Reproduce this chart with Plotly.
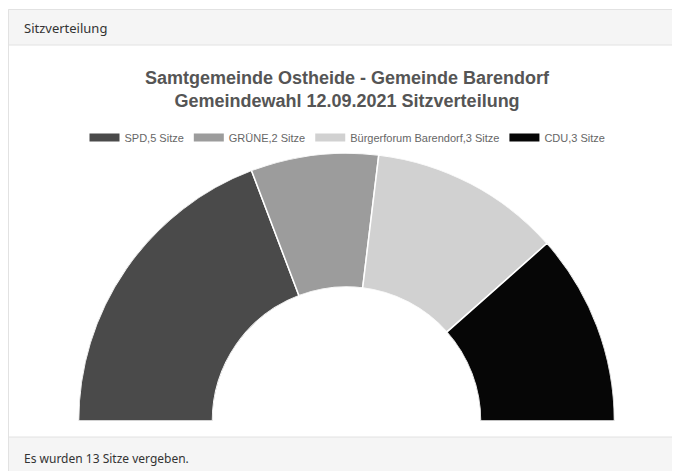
import plotly.graph_objects as go

# ---- data ----
parties = ["SPD", "GRÜNE", "Bürgerforum Barendorf", "CDU"]
seats = [5, 2, 3, 3]
colors = ["#4a4a4a", "#9c9c9c", "#d1d1d1", "#060606"]
title_lines = ["Samtgemeinde Ostheide - Gemeinde Barendorf",
               "Gemeindewahl 12.09.2021 Sitzverteilung"]
header_text = "Sitzverteilung"
footer_text = "Es wurden 13 Sitze vergeben."

# page body has an 8px margin; figure sized to fill the rest of the window
OFF = 8
W, H = 680 - OFF, 471 - OFF
total = sum(seats)
widths = [s / total * 180 for s in seats]
centers = []
acc = 0
for w in widths:
    centers.append(acc + w / 2)
    acc += w


def px(x):
    return (x - OFF) / W


def py(y):
    return 1 - (y - OFF) / H


fig = go.Figure()
fig.add_trace(go.Barpolar(
    r=[1] * len(seats), theta=centers, width=widths,
    marker=dict(color=colors, line=dict(color="white", width=1.5)),
    showlegend=False,
    text=[f"{p},{s} Sitze" for p, s in zip(parties, seats)],
    hoverinfo="text",
))
for p, s, c in zip(parties, seats, colors):
    fig.add_trace(go.Scatterpolar(
        r=[None], theta=[None], mode="lines",
        line=dict(color=c, width=8), name=f"{p},{s} Sitze",
    ))

shapes = [
    dict(type="rect", xref="paper", yref="paper", x0=px(8.5), x1=px(700),
         y0=py(500), y1=py(9.5), fillcolor="white", line=dict(color="#e2e2e2", width=1),
         layer="below"),
    dict(type="rect", xref="paper", yref="paper", x0=px(8.5), x1=px(700),
         y0=py(45), y1=py(9.5), fillcolor="#f5f5f5", line=dict(color="#e2e2e2", width=1),
         layer="below"),
    dict(type="rect", xref="paper", yref="paper", x0=px(8.5), x1=px(700),
         y0=py(500), y1=py(437), fillcolor="#f5f5f5", line=dict(color="#e2e2e2", width=1),
         layer="below"),
]

annotations = [
    dict(text=header_text, x=px(22), y=py(28.5), xref="paper", yref="paper",
         xanchor="left", yanchor="middle", showarrow=False,
         font=dict(family="Noto Sans", size=13, color="#333333")),
    dict(text=footer_text, x=px(22), y=py(458), xref="paper", yref="paper",
         xanchor="left", yanchor="middle", showarrow=False,
         font=dict(family="Noto Sans", size=12, color="#333333")),
    dict(text="<br>".join(f"<b>{t}</b>" for t in title_lines),
         x=px(347.5), y=py(90), xref="paper", yref="paper",
         xanchor="center", yanchor="middle", showarrow=False,
         font=dict(family="Liberation Sans", size=18, color="#555555")),
]

fig.update_layout(
    width=W, height=H,
    margin=dict(l=0, r=0, t=0, b=0),
    paper_bgcolor="white",
    plot_bgcolor="white",
    shapes=shapes,
    annotations=annotations,
    polar=dict(
        domain=dict(x=[px(78.5), px(614.5)], y=[py(421), py(153)]),
        sector=[0, 180],
        hole=0.5,
        bgcolor="rgba(0,0,0,0)",
        angularaxis=dict(visible=False, direction="clockwise", rotation=180),
        radialaxis=dict(visible=False, range=[0, 1]),
    ),
    legend=dict(
        orientation="h", x=px(347.5), xanchor="center", y=py(137.5), yanchor="middle",
        font=dict(family="Liberation Sans", size=11, color="#666666"),
        bgcolor="rgba(0,0,0,0)", itemwidth=30,
    ),
    showlegend=True,
)

fig.write_html("out.html")
